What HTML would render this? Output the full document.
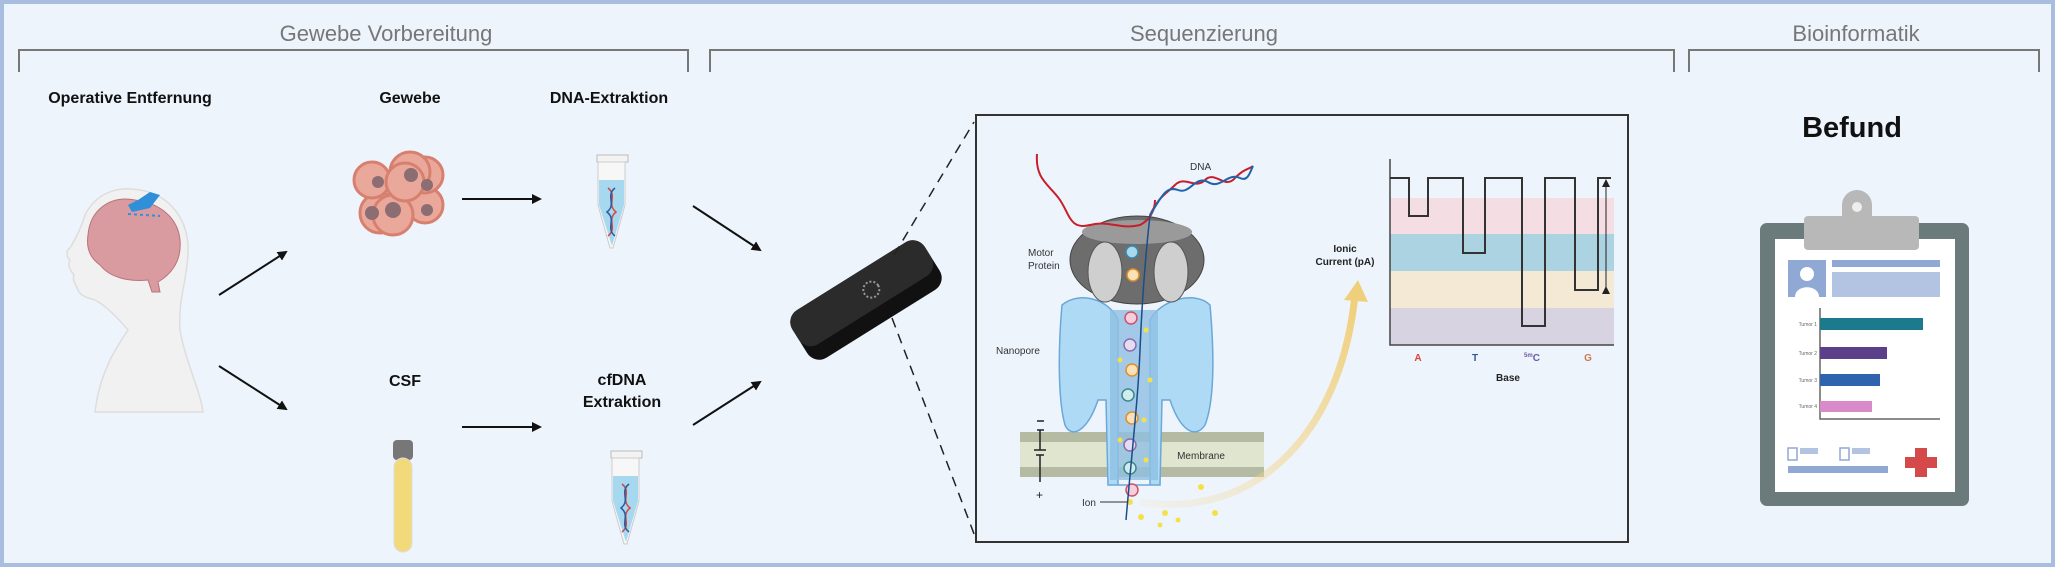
<!DOCTYPE html>
<html><head><meta charset="utf-8"><style>
html,body{margin:0;padding:0;background:#eef4fc;}
svg{display:block}
text{font-family:"Liberation Sans",sans-serif}
</style></head><body>
<svg width="2055" height="567" viewBox="0 0 2055 567" xmlns="http://www.w3.org/2000/svg">
<defs>
<marker id="ah" markerWidth="10" markerHeight="10" refX="8" refY="5" orient="auto" markerUnits="userSpaceOnUse">
<path d="M0,0 L10,5 L0,10 z" fill="#111"/></marker>
<marker id="ah2" markerWidth="8" markerHeight="8" refX="4" refY="4" orient="auto" markerUnits="userSpaceOnUse">
<path d="M0,0 L8,4 L0,8 z" fill="#222"/></marker>
<linearGradient id="yl" x1="0" y1="1" x2="1" y2="0"><stop offset="0" stop-color="#f3d58a" stop-opacity="0.1"/><stop offset="1" stop-color="#f0cf7a"/></linearGradient>
</defs>
<rect x="2" y="2" width="2051" height="563" fill="#eef4fc" stroke="#a9bde0" stroke-width="4"/>
<!-- headers -->
<g font-size="22" fill="#777" text-anchor="middle">
<text x="386" y="41">Gewebe Vorbereitung</text>
<text x="1204" y="41">Sequenzierung</text>
<text x="1856" y="41">Bioinformatik</text>
</g>
<g fill="none" stroke="#777" stroke-width="2">
<path d="M19,72 V50 H688 V72"/>
<path d="M710,72 V50 H1674 V72"/>
<path d="M1689,72 V50 H2039 V72"/>
</g>
<!-- labels -->
<g font-size="16" font-weight="bold" fill="#111" text-anchor="middle">
<text x="130" y="103">Operative Entfernung</text>
<text x="410" y="103">Gewebe</text>
<text x="609" y="103">DNA-Extraktion</text>
<text x="405" y="386">CSF</text>
<text x="622" y="385">cfDNA</text>
<text x="622" y="407">Extraktion</text>
</g>
<!-- head -->
<path d="M95,412 C100,370 118,345 128,330 C118,318 105,305 95,300 C88,298 80,296 78,290 C76,285 72,280 74,275 C70,270 67,265 70,260 C66,257 66,250 70,248 C78,235 82,225 85,215 C95,195 115,185 140,190 C170,195 190,220 188,255 C186,285 178,300 180,330 C185,360 200,390 203,412 Z" fill="#f1f1f1" stroke="#ddd" stroke-width="1.5"/>
<path d="M88,235 C90,210 110,195 135,200 C160,203 178,218 180,240 C182,262 170,275 158,282 L160,292 L152,292 L148,280 C130,282 110,278 100,265 C90,258 86,248 88,235 Z" fill="#d99aa0" stroke="#b9737b" stroke-width="1"/>
<path d="M128,205 L138,200 L150,192 L160,195 L150,208 L132,212 Z" fill="#2f8fd8"/>
<path d="M128,214 L160,216" stroke="#2f8fd8" stroke-width="2" stroke-dasharray="3,3"/>
<!-- cells -->
<g stroke="#d88070" stroke-width="3" fill="#e9a89a">
<circle cx="380" cy="213" r="20"/><circle cx="425" cy="205" r="18"/><circle cx="372" cy="180" r="18"/><circle cx="425" cy="175" r="18"/><circle cx="410" cy="172" r="20"/><circle cx="393" cy="215" r="20"/><circle cx="405" cy="182" r="19"/>
</g>
<g fill="#8b6d72"><circle cx="372" cy="213" r="7"/><circle cx="427" cy="210" r="6"/><circle cx="378" cy="182" r="6"/><circle cx="427" cy="185" r="6"/><circle cx="411" cy="175" r="7"/><circle cx="393" cy="210" r="8"/></g>
<!-- tubes -->
<g id="tube">
<path d="M597,155 H628 V162 H597 Z" fill="#f3f3f3" stroke="#bbb"/>
<path d="M598,162 H625 V205 L613,248 H610 L598,205 Z" fill="#f7f7f7" stroke="#ccc"/>
<path d="M599,180 H624 V205 L612,246 L599,205 Z" fill="#a6d8f0"/>
<path d="M608,188 C618,196 606,204 616,212 C606,220 618,228 608,236" stroke="#d9433d" stroke-width="1.5" fill="none"/>
<path d="M615,188 C605,196 617,204 607,212 C617,220 605,228 615,236" stroke="#2a5a9c" stroke-width="1.5" fill="none"/>
</g>
<use href="#tube" transform="translate(14,296)"/>
<!-- CSF tube -->
<rect x="393" y="440" width="20" height="20" rx="4" fill="#777"/>
<rect x="394" y="458" width="18" height="94" rx="9" fill="#f2d97a" stroke="#ddd"/>
<!-- arrows -->
<g stroke="#111" stroke-width="2" marker-end="url(#ah)">
<line x1="219" y1="295" x2="286" y2="252"/>
<line x1="219" y1="366" x2="286" y2="409"/>
<line x1="462" y1="199" x2="540" y2="199"/>
<line x1="462" y1="427" x2="540" y2="427"/>
<line x1="693" y1="206" x2="760" y2="250"/>
<line x1="693" y1="425" x2="760" y2="382"/>
</g>
<!-- device -->
<g transform="translate(866,300) rotate(-32)">
<rect x="-78" y="-28" width="156" height="56" rx="14" fill="#111"/>
<rect x="-78" y="-28" width="156" height="40" rx="14" fill="#2b2b2b"/>
<circle cx="10" cy="-6" r="8" fill="none" stroke="#999" stroke-width="2" stroke-dasharray="2,2"/>
</g>
<!-- dashed -->
<g stroke="#222" stroke-width="1.5" stroke-dasharray="10,7">
<line x1="894" y1="255" x2="974" y2="122"/>
<line x1="892" y1="318" x2="976" y2="539"/>
</g>
<rect x="976" y="115" width="652" height="427" fill="#eef4fc" stroke="#333" stroke-width="2"/>
<!-- membrane -->
<rect x="1020" y="432" width="244" height="10" fill="#b5bba2"/>
<rect x="1020" y="442" width="244" height="25" fill="#dfe5cf"/>
<rect x="1020" y="467" width="244" height="10" fill="#b5bba2"/>
<text x="1201" y="459" font-size="10" fill="#333" text-anchor="middle">Membrane</text>
<!-- pore -->
<path d="M1062,305 C1080,290 1110,300 1118,320 L1118,485 L1150,485 L1150,320 C1160,300 1195,290 1210,305 C1214,350 1215,400 1205,425 C1195,440 1180,430 1170,400 L1162,400 L1160,485 L1108,485 L1106,400 L1098,400 C1088,430 1072,440 1065,425 C1058,400 1058,350 1062,305 Z" fill="#afdaf6" stroke="#6aa8d8" stroke-width="1.5"/>
<path d="M1110,310 H1158 V480 H1110 Z" fill="#8fbfe2" opacity="0.8"/>
<!-- motor protein -->
<ellipse cx="1137" cy="260" rx="67" ry="44" fill="#6d6d6d" stroke="#444"/>
<ellipse cx="1137" cy="232" rx="55" ry="12" fill="#9a9a9a"/>
<ellipse cx="1105" cy="272" rx="17" ry="30" fill="#cfcfcf" stroke="#555"/>
<ellipse cx="1171" cy="272" rx="17" ry="30" fill="#cfcfcf" stroke="#555"/>
<!-- nucleotides -->
<g stroke-width="1.5" fill="#f3d0dc">
<circle cx="1131" cy="318" r="6" stroke="#d0506a"/><circle cx="1130" cy="345" r="6" stroke="#8a6cb0" fill="#e4dcf0"/><circle cx="1132" cy="370" r="6" stroke="#e0902a" fill="#fbe1b8"/><circle cx="1128" cy="395" r="6" stroke="#3a8a8a" fill="#d0ecec"/><circle cx="1132" cy="418" r="6" stroke="#e0902a" fill="#fbe1b8"/><circle cx="1130" cy="445" r="6" stroke="#8a6cb0" fill="#e4dcf0"/><circle cx="1130" cy="468" r="6" stroke="#3a8a8a" fill="#d0ecec"/><circle cx="1132" cy="490" r="6" stroke="#d0506a"/>
<circle cx="1133" cy="275" r="6" stroke="#e0902a" fill="#fbe1b8"/><circle cx="1132" cy="252" r="6" stroke="#3a8ab0" fill="#a8d8ec"/>
</g>
<g fill="#f4e04a"><circle cx="1146" cy="330" r="2.5"/><circle cx="1120" cy="360" r="2.5"/><circle cx="1150" cy="380" r="2.5"/><circle cx="1144" cy="420" r="2.5"/><circle cx="1120" cy="440" r="2.5"/><circle cx="1146" cy="460" r="2.5"/>
<circle cx="1201" cy="487" r="3"/><circle cx="1141" cy="517" r="3"/><circle cx="1165" cy="513" r="3"/><circle cx="1215" cy="513" r="3"/><circle cx="1178" cy="520" r="2.5"/><circle cx="1160" cy="525" r="2.5"/><circle cx="1130" cy="502" r="3"/></g>
<!-- DNA -->
<path d="M1037,154 C1035,180 1050,185 1060,200 C1070,215 1070,230 1090,225 C1110,220 1120,230 1140,225 C1150,220 1155,210 1155,200" fill="none" stroke="#c81e2a" stroke-width="2"/>
<path d="M1150,215 C1160,195 1165,195 1175,185 C1185,175 1195,190 1205,180 C1215,170 1225,190 1235,178 C1245,168 1248,170 1253,166" fill="none" stroke="#c81e2a" stroke-width="2"/>
<path d="M1150,215 C1160,200 1165,185 1178,190 C1190,195 1195,175 1208,182 C1220,190 1228,172 1240,178 C1248,182 1250,172 1253,166" fill="none" stroke="#1f64a8" stroke-width="2"/>
<path d="M1150,215 C1145,260 1142,300 1140,350 C1138,400 1132,450 1126,520" fill="none" stroke="#1a4e8a" stroke-width="1.5"/>
<!-- battery -->
<g stroke="#222" stroke-width="1.5" fill="none"><path d="M1037,430 H1044 M1037,421 H1044 M1040,430 V450 M1034,450 H1046 M1036,455 H1044 M1040,455 V482"/></g>
<text x="1036" y="499" font-size="12" fill="#222">+</text>
<g font-size="10" fill="#333">
<text x="1028" y="256">Motor</text><text x="1028" y="269">Protein</text>
<text x="996" y="354">Nanopore</text>
<text x="1082" y="506">Ion</text>
<text x="1190" y="170">DNA</text>
</g>
<line x1="1100" y1="502" x2="1128" y2="502" stroke="#333"/>
<!-- yellow curve -->
<path d="M1140,502 C1250,520 1340,440 1355,295" fill="none" stroke="url(#yl)" stroke-width="7"/>
<path d="M1344,300 L1358,280 L1368,302 Z" fill="#f0cf7a"/>
<!-- chart -->
<rect x="1390" y="198" width="224" height="36" fill="#f5dde4"/>
<rect x="1390" y="234" width="224" height="37" fill="#acd3e2"/>
<rect x="1390" y="271" width="224" height="37" fill="#f3e9d5"/>
<rect x="1390" y="308" width="224" height="37" fill="#d8d3e0"/>
<path d="M1390,159 V345 H1614" fill="none" stroke="#444" stroke-width="1.5"/>
<path d="M1390,178 H1409 V216 H1428 V178 H1463 V253 H1485 V178 H1522 V326 H1545 V178 H1575 V290 H1598 V178 H1611" fill="none" stroke="#333" stroke-width="2"/>
<line x1="1606" y1="290" x2="1606" y2="183" stroke="#222" marker-end="url(#ah2)" marker-start="url(#ah2)"/>
<g font-size="10" font-weight="bold" text-anchor="middle">
<text x="1345" y="252" fill="#222">Ionic</text><text x="1345" y="265" fill="#222">Current (pA)</text>
<text x="1418" y="361" fill="#d9433d">A</text><text x="1475" y="361" fill="#2a5a9c">T</text><text x="1532" y="361" fill="#6a5aa8"><tspan font-size="6" dy="-4">5m</tspan><tspan dy="4">C</tspan></text><text x="1588" y="361" fill="#c87a50">G</text>
<text x="1508" y="381" fill="#222">Base</text>
</g>
<!-- Befund -->
<text x="1852" y="137" font-size="29" font-weight="bold" text-anchor="middle" fill="#111">Befund</text>
<rect x="1760" y="223" width="209" height="283" rx="7" fill="#6b7a7b"/>
<rect x="1775" y="239" width="180" height="253" fill="#fff"/>
<rect x="1804" y="216" width="115" height="34" rx="4" fill="#b8b8b8"/>
<path d="M1842,216 V205 A15,15 0 0 1 1872,205 V216 Z" fill="#b8b8b8"/>
<circle cx="1857" cy="207" r="5" fill="#eee"/>
<rect x="1788" y="260" width="38" height="37" fill="#8fa9d4"/>
<circle cx="1807" cy="274" r="7" fill="#fff"/><path d="M1795,297 C1795,284 1819,284 1819,297 Z" fill="#fff"/>
<rect x="1832" y="260" width="108" height="7" fill="#8fa9d4"/>
<rect x="1832" y="272" width="108" height="25" fill="#b3c4e3"/>
<path d="M1820,308 V419 H1940" fill="none" stroke="#666" stroke-width="1.5"/>
<rect x="1820" y="318" width="103" height="12" fill="#1b7a8c"/>
<rect x="1820" y="347" width="67" height="12" fill="#5b3f8a"/>
<rect x="1820" y="374" width="60" height="12" fill="#2f63ad"/>
<rect x="1820" y="401" width="52" height="11" fill="#d98ac8"/>
<g font-size="5" fill="#666" text-anchor="end"><text x="1817" y="326">Tumor 1</text><text x="1817" y="355">Tumor 2</text><text x="1817" y="382">Tumor 3</text><text x="1817" y="408">Tumor 4</text></g>
<rect x="1788" y="448" width="9" height="12" fill="none" stroke="#8fa9d4" stroke-width="1.5"/>
<rect x="1800" y="448" width="18" height="6" fill="#b3c4e3"/>
<rect x="1840" y="448" width="9" height="12" fill="none" stroke="#8fa9d4" stroke-width="1.5"/>
<rect x="1852" y="448" width="18" height="6" fill="#b3c4e3"/>
<rect x="1788" y="466" width="100" height="7" fill="#8fa9d4"/>
<rect x="1915" y="448" width="12" height="29" fill="#d44a4a"/>
<rect x="1905" y="457" width="32" height="11" fill="#d44a4a"/>
</svg>
</body></html>
